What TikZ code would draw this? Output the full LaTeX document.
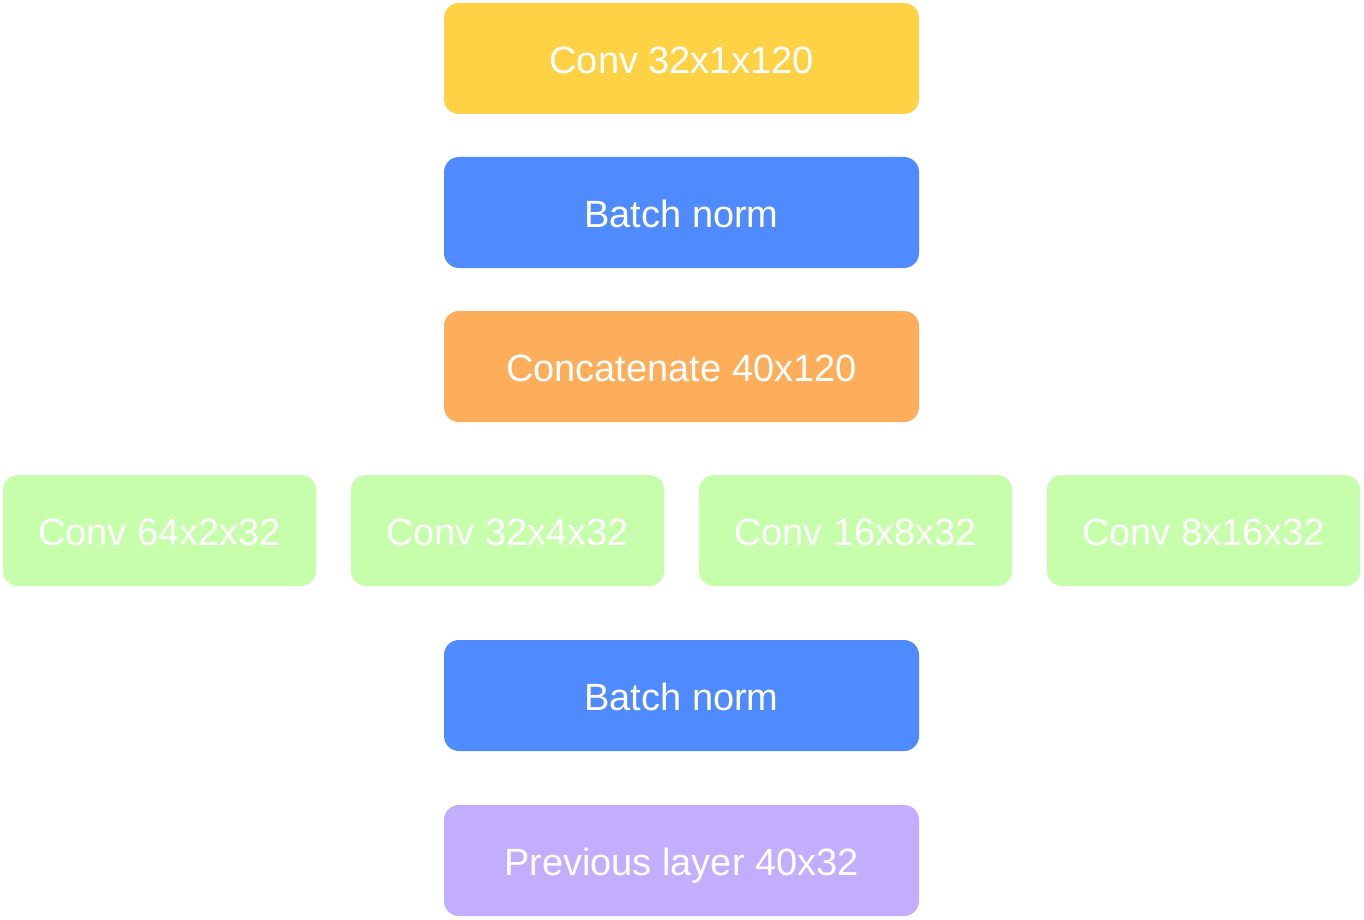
\documentclass[tikz,border=0pt]{standalone}
\usepackage{fontspec}
\setmainfont{Liberation Sans}
\definecolor{cyellow}{HTML}{FFD145}
\definecolor{cblue}{HTML}{4F8AFE}
\definecolor{corange}{HTML}{FEAD5A}
\definecolor{cgreen}{HTML}{C7FEAB}
\definecolor{cpurple}{HTML}{C2ADFE}
\begin{document}
\begin{tikzpicture}[x=1pt,y=-1pt,
  blockbox/.style={rounded corners=15pt, draw=none, text=white, font=\fontsize{38}{44}\selectfont, inner sep=0pt, text height=30pt, text depth=0pt},
  bx/.style={blockbox, minimum height=111pt}]
\useasboundingbox (0,0) rectangle (1364,920);
\node[bx, fill=cyellow, minimum width=475pt] (conv) at (681.5,58.5) {Conv 32x1x120};
\node[bx, fill=cblue, minimum width=475pt] (bn1) at (681.5,212.5) {Batch norm};
\node[bx, fill=corange, minimum width=475pt] (cat) at (681.5,366.5) {Concatenate 40x120};
\node[bx, fill=cgreen, minimum width=313pt] (c1) at (159.5,530.5) {Conv 64x2x32};
\node[bx, fill=cgreen, minimum width=313pt] (c2) at (507.5,530.5) {Conv 32x4x32};
\node[bx, fill=cgreen, minimum width=313pt] (c3) at (855.5,530.5) {Conv 16x8x32};
\node[bx, fill=cgreen, minimum width=313pt] (c4) at (1203.5,530.5) {Conv 8x16x32};
\node[bx, fill=cblue, minimum width=475pt] (bn2) at (681.5,695.5) {Batch norm};
\node[bx, fill=cpurple, minimum width=475pt] (prev) at (681.5,860.5) {Previous layer 40x32};
\end{tikzpicture}
\end{document}
